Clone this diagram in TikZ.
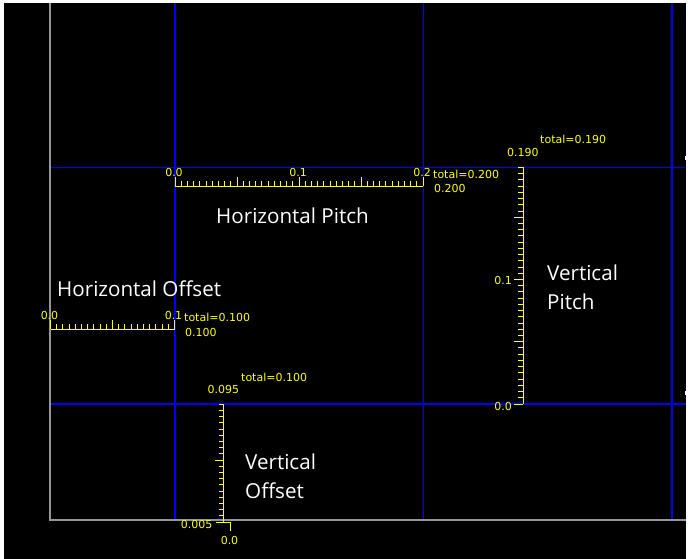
\documentclass[tikz,border=0pt]{standalone}
\usepackage{fontspec}
\setmainfont{Open Sans}
\newfontfamily\rulerfont{DejaVu Sans}
\definecolor{rulyellow}{RGB}{255,255,0}
\definecolor{gridblue}{RGB}{0,0,255}
\definecolor{framegray}{RGB}{150,150,150}
\begin{document}
\begin{tikzpicture}[x=1pt,y=-1pt,
  rul/.style={draw=rulyellow,line width=1pt},
  rlab/.style={text=rulyellow,font=\rulerfont\fontsize{11}{13}\selectfont,inner sep=0pt},
  titletext/.style={text=white,font=\fontsize{20.6}{29}\selectfont,inner sep=0pt,anchor=base west},
  thickblue/.style={draw=gridblue,line width=2pt},
  thinblue/.style={draw=gridblue,line width=0.9pt},
  frameline/.style={draw=framegray,line width=1.4pt}]
% background
\fill[white] (0,0) rectangle (688,559);
\fill[black] (4,3) rectangle (686,559);
\useasboundingbox (0,0) rectangle (688,559);
% frame and grid
\draw[thinblue] (50,167) -- (686,167);
\draw[thinblue] (423,3) -- (423,520);
\draw[thickblue] (175,3) -- (175,520);
\draw[thickblue] (672,3) -- (672,520);
\draw[thickblue] (50,404) -- (686,404);
\draw[frameline] (50,3) -- (50,520) -- (686,520);
\fill[white] (684.5,156) rectangle (686,160);
\fill[white] (684.5,391) rectangle (686,395);
% Horizontal pitch ruler
\foreach \k in {0,...,40}{
  \pgfmathsetmacro{\len}{ifthenelse(mod(\k,10)==0,9,5)}
  \draw[rul] (175+\k*6.2,186) -- ++(0,-\len);
}
\draw[rul] (175,186) -- (423,186);
\node[rlab] (hp0) at (174,172) {0.0};
\node[rlab] (hp1) at (298,172) {0.1};
\node[rlab] (hp2) at (422,172) {0.2};
\node[rlab,anchor=west] (hpt) at (433,174.5) {total=0.200};
\node[rlab,anchor=west] (hpv) at (434,188.5) {0.200};
% Horizontal offset ruler
\foreach \k in {0,...,20}{
  \pgfmathsetmacro{\len}{ifthenelse(mod(\k,10)==0,9,5.5)}
  \draw[rul] (50.5+\k*6.2,329) -- ++(0,-\len);
}
\draw[rul] (50.5,329) -- (174.5,329);
\node[rlab] (ho0) at (49.5,315.5) {0.0};
\node[rlab] (ho1) at (173.5,315.5) {0.1};
\node[rlab,anchor=west] (hot) at (184,317.5) {total=0.100};
\node[rlab,anchor=west] (hov) at (185,332) {0.100};
% Vertical pitch ruler
\foreach \k in {0,...,38}{
  \pgfmathsetmacro{\len}{ifthenelse(mod(\k,10)==0,9,5)}
  \draw[rul] (523,404-\k*6.225) -- ++(-\len,0);
}
\draw[rul] (523,404) -- (523,167.4);
\node[rlab,anchor=east] (vp0) at (512,406.5) {0.0};
\node[rlab,anchor=east] (vp1) at (512,280.5) {0.1};
\node[rlab,anchor=west] (vpv) at (507,152.5) {0.190};
\node[rlab,anchor=west] (vpt) at (540,139.5) {total=0.190};
% Vertical offset ruler
\foreach \k in {1,...,19}{
  \pgfmathsetmacro{\len}{ifthenelse(mod(\k,10)==0,8.5,4.5)}
  \draw[rul] (223.5,522-\k*6.2) -- ++(-\len,0);
}
\draw[rul] (223.5,522) -- (223.5,404.2);
\draw[rul] (215.5,522) -- (230,522) -- (230,530.5);
\node[rlab,anchor=east] (vo1) at (212.5,524) {0.005};
\node[rlab] (vo0) at (229.5,540.5) {0.0};
\node[rlab,anchor=west] (vov) at (207.5,389.5) {0.095};
\node[rlab,anchor=west] (vot) at (241,377) {total=0.100};
% titles
\node[titletext] (thp) at (216,223.5) {Horizontal Pitch};
\node[titletext] (tho) at (57,296.5) {Horizontal Offset};
\node[titletext] (tvp1) at (547,280.5) {Vertical};
\node[titletext] (tvp2) at (547,309.5) {Pitch};
\node[titletext] (tvo1) at (245,469.5) {Vertical};
\node[titletext] (tvo2) at (245,498.5) {Offset};
\end{tikzpicture}
\end{document}
